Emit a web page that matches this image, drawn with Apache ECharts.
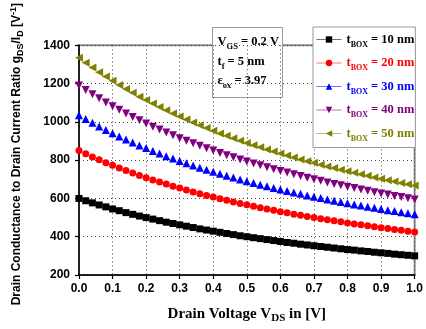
<!DOCTYPE html>
<html><head><meta charset="utf-8">
<script src="https://cdn.jsdelivr.net/npm/echarts@6/dist/echarts.min.js"></script>
<style>html,body{margin:0;padding:0;background:#fff}#c{width:426px;height:329px}</style>
</head><body><div id="c"></div>
<script>
// Drain voltage V_DS [V], step 0.02
var vds = [0.00,0.02,0.04,0.06,0.08,0.10,0.12,0.14,0.16,0.18,0.20,0.22,0.24,0.26,0.28,0.30,0.32,0.34,0.36,0.38,0.40,0.42,0.44,0.46,0.48,0.50,0.52,0.54,0.56,0.58,0.60,0.62,0.64,0.66,0.68,0.70,0.72,0.74,0.76,0.78,0.80,0.82,0.84,0.86,0.88,0.90,0.92,0.94,0.96,0.98,1.00];
var tbox10 = [600,588,577,566,556,545,536,526,517,508,500,492,484,476,469,462,455,448,441,435,429,423,417,411,405,400,395,390,385,380,375,370,366,361,357,353,349,345,341,337,333,330,326,323,319,316,313,309,306,303,300];
var tbox20 = [850,833,817,802,787,773,759,746,733,720,708,697,686,675,664,654,644,634,625,616,607,599,590,582,574,567,559,552,545,538,531,525,518,512,506,500,494,489,483,478,472,467,462,457,452,447,443,438,434,429,425];
var tbox30 = [1035,1015,995,976,958,941,924,908,892,877,863,848,835,821,809,796,784,772,761,750,739,729,719,709,699,690,681,672,664,655,647,639,631,624,616,609,602,595,588,582,575,569,563,557,551,545,539,534,528,523,518];
var tbox40 = [1190,1167,1144,1123,1102,1082,1063,1044,1026,1009,992,975,960,944,930,915,902,888,875,862,850,838,826,815,804,793,783,773,763,753,744,735,726,717,708,700,692,684,676,669,661,654,647,640,633,626,620,613,607,601,595];
var tbox50 = [1335,1309,1284,1260,1237,1215,1193,1172,1152,1132,1114,1096,1078,1061,1044,1028,1012,997,982,968,954,940,927,914,902,890,878,867,856,845,835,824,814,804,795,786,776,767,759,750,742,734,726,718,710,703,695,688,681,674,668];
var seriesNames = ['10','20','30','40','50'];
var xTicks = ['0.0','0.1','0.2','0.3','0.4','0.5','0.6','0.7','0.8','0.9','1.0'];
var yTicks = [200,400,600,800,1000,1200,1400];

var colors = ['#000000','#ff0000','#0000ff','#800080','#808000'];
var symbols = ['rect','circle','triangle','triangle','triangle'];
var rotates = [0,0,0,180,90];
var sizes = [7,7,8,8,8];
var allData = [tbox10,tbox20,tbox30,tbox40,tbox50];

var serif = '"Liberation Serif","Times New Roman",serif';
var sans = '"Liberation Sans",Arial,sans-serif';

var series = allData.map(function(arr,i){
  return {
    name: seriesNames[i], type:'line',
    data: vds.map(function(v,j){return [v,arr[j]];}),
    symbol: symbols[i], symbolSize: sizes[i], symbolRotate: rotates[i],
    itemStyle:{color:colors[i]},
    lineStyle:{color:colors[i],opacity:0,width:1},
    showAllSymbol:true, animation:false, z: 3
  };
});

var legendRich = {};
colors.forEach(function(c,i){
  legendRich['m'+i] = {color:c,fontFamily:serif,fontWeight:'bold',fontSize:12.5,lineHeight:18,verticalAlign:'middle'};
  legendRich['s'+i] = {color:c,fontFamily:serif,fontWeight:'bold',fontSize:8,lineHeight:8,verticalAlign:'bottom'};
});

var chart = echarts.init(document.getElementById('c'),null,{renderer:'canvas'});
chart.setOption({
  animation:false,
  grid:{left:79,right:7,top:23,bottom:54,show:true,borderColor:'#8a8a8a',borderWidth:2,backgroundColor:'transparent'},
  xAxis:{
    type:'value',min:0,max:1,interval:0.1,
    name:'{a|Drain Voltage V}{b|DS}{a| in [V]}',
    nameLocation:'middle',nameGap:29,
    nameTextStyle:{rich:{
      a:{fontFamily:serif,fontWeight:'bold',fontSize:15,color:'#000',lineHeight:20,verticalAlign:'middle'},
      b:{fontFamily:serif,fontWeight:'bold',fontSize:11,color:'#000',lineHeight:10,verticalAlign:'bottom'}
    }},
    axisLine:{show:true,onZero:false,lineStyle:{color:'#000',width:1.5}},
    axisTick:{show:true,inside:false,length:4,lineStyle:{color:'#000',width:1.2}},
    axisLabel:{margin:8,color:'#000',fontFamily:sans,fontWeight:'bold',fontSize:12,
      formatter:function(v){var k=Math.round(v*10);return xTicks[k];}},
    splitLine:{show:true,lineStyle:{color:'#444',width:1,type:[1,3]}}
  },
  yAxis:{
    type:'value',min:200,max:1400,interval:200,
    name:'{a|Drain Conductance to Drain Current Ratio g}{b|DS}{a|/I}{b|D}{a| [V}{c|-1}{a|]}',
    nameLocation:'middle',nameGap:54,nameRotate:90,
    nameTextStyle:{padding:[0,0,0,12],rich:{
      a:{fontFamily:sans,fontWeight:'bold',fontSize:12,color:'#000',lineHeight:16,verticalAlign:'middle'},
      b:{fontFamily:sans,fontWeight:'bold',fontSize:9,color:'#000',lineHeight:8,verticalAlign:'bottom'},
      c:{fontFamily:sans,fontWeight:'bold',fontSize:9,color:'#000',lineHeight:8,verticalAlign:'top'}
    }},
    axisLine:{show:true,onZero:false,lineStyle:{color:'#000',width:1.5}},
    axisTick:{show:true,inside:false,length:4,lineStyle:{color:'#000',width:1.2}},
    axisLabel:{margin:9,color:'#000',fontFamily:sans,fontWeight:'bold',fontSize:12,
      formatter:function(v){return yTicks.indexOf(v)>=0?String(v):'';}},
    splitLine:{show:true,lineStyle:{color:'#444',width:1,type:[1,3]}}
  },
  legend:{
    show:true,orient:'vertical',left:313,top:27,
    itemWidth:25,itemHeight:8,itemGap:8,
    padding:[6,1,5,3],
    backgroundColor:'#fff',borderColor:'#999',borderWidth:1,
    lineStyle:{opacity:0.55,width:1},
    data:seriesNames,
    formatter:function(name){var i=seriesNames.indexOf(name);return '{m'+i+'|t}{s'+i+'|BOX}{m'+i+'| = '+name+' nm}';},
    textStyle:{rich:legendRich,padding:[0,0,0,0]}
  },
  graphic:[{
    type:'group',left:212,top:27,z:10,
    children:[
      {type:'rect',shape:{x:0,y:0,width:70,height:70},style:{fill:'#fff',stroke:'#999',lineWidth:1}},
      {type:'text',left:5,top:8,style:{
        text:'{m|V}{s|GS}{m| = 0.2 V}\n{m|t}{s|f}{m| = 5 nm}\n{m|\u03b5}{s|ox}{m| = 3.97}',
        rich:{
          m:{fontFamily:serif,fontWeight:'bold',fontSize:12.5,fill:'#000',lineHeight:19.5,verticalAlign:'middle'},
          s:{fontFamily:serif,fontWeight:'bold',fontSize:8.5,fill:'#000',lineHeight:8,verticalAlign:'bottom'}
        }}}
    ]
  }],
  series:series
});
</script>
</body></html>
